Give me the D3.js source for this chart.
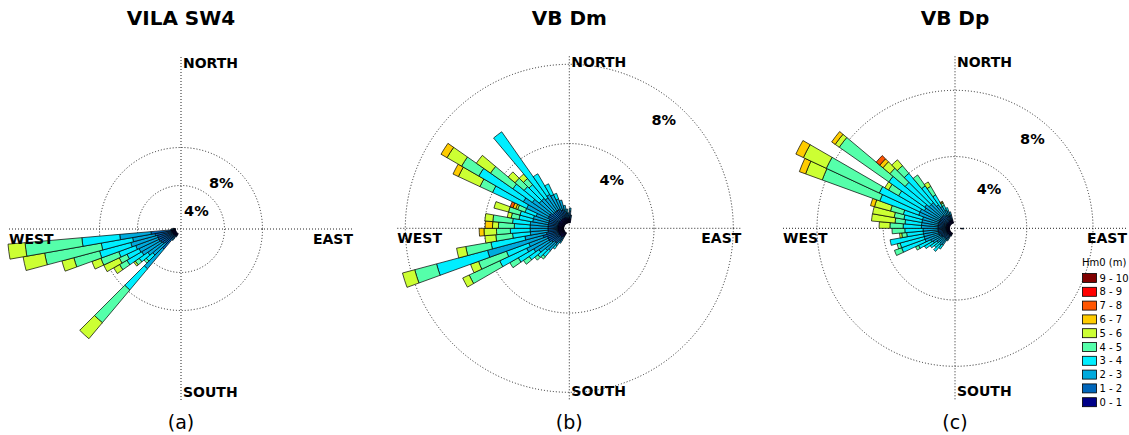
<!DOCTYPE html>
<html>
<head>
<meta charset="utf-8">
<script src="https://cdn.jsdelivr.net/npm/d3@7"></script>
<style>
  body { margin: 0; background: #fff; }
  text { font-family: "DejaVu Sans", sans-serif; }
</style>
</head>
<body>
<svg id="chart" width="1129" height="435"></svg>
<script>
// Significant wave height classes (m) and their colours
const classLabels = ['0 - 1', '1 - 2', '2 - 3', '3 - 4', '4 - 5', '5 - 6', '6 - 7', '7 - 8', '8 - 9', '9 - 10'];
const classColors = ['#000088', '#0066bb', '#00aadd', '#00eeff', '#55ffaa', '#ccff33', '#ffcc00', '#ff5500', '#ff0000', '#800000'];

// Direction bins (degrees, clockwise from north, 5-degree sectors) and
// frequency (%) per Hm0 class for each bin.
const dirsA = [212.5, 217.5, 222.5, 227.5, 232.5, 237.5, 242.5, 247.5, 252.5, 257.5, 262.5, 267.5, 272.5];
const freqA = [
  [0.2, 0.2],
  [0.2, 0.4, 0.3],
  [0.4, 1.8, 2.7, 2.9, 4.5, 2.2],
  [0.3, 1.3, 1.7, 0.9, 0.3],
  [0.4, 1.4, 1.9, 1.1, 0.5, 0.2],
  [0.4, 1.5, 2.3, 1.8, 0.9, 0.7],
  [0.4, 1.6, 2.3, 1.4, 0.9, 1.8],
  [0.4, 1.6, 2.5, 1.9, 2.0, 1.0],
  [0.4, 1.6, 2.9, 3.4, 2.8, 1.3],
  [0.4, 1.8, 2.4, 3.35, 6.05, 2.3],
  [0.5, 2.1, 3.3, 4.0, 6.0, 1.8],
  [0.2, 0.3],
  [0.15, 0.15]
];

const dirsB = [212.5, 217.5, 222.5, 227.5, 232.5, 237.5, 242.5, 247.5, 252.5, 257.5, 262.5, 267.5, 272.5, 277.5, 282.5, 287.5,
               292.5, 297.5, 302.5, 307.5, 312.5, 317.5, 322.5, 327.5, 332.5, 337.5, 342.5, 347.5, 352.5, 357.5, 2.5, 7.5];
const freqB = [
  [0.2, 0.2, 0.2],
  [0.2, 0.3, 0.3, 0.2],
  [0.3, 0.4, 0.5, 0.4, 0.15],
  [0.3, 0.4, 0.6, 0.5, 0.2],
  [0.3, 0.5, 0.8, 0.6, 0.35],
  [0.3, 0.6, 0.9, 0.9, 0.49],
  [0.3, 0.6, 1.2, 1.5, 1.7, 0.36],
  [0.3, 0.6, 1.0, 1.2, 1.5, 0.43],
  [0.3, 0.8, 2.9, 2.66, 1.14, 0.64],
  [0.3, 0.6, 1.1, 1.74, 1.29, 0.47],
  [0.3, 0.5, 0.9, 0.9, 0.85, 0.55],
  [0.3, 0.5, 0.9, 1.0, 0.7, 0.63, 0.24],
  [0.3, 0.5, 0.9, 0.8, 0.8, 0.3, 0.37],
  [0.3, 0.5, 0.9, 0.9, 1.0, 0.4],
  [0.3, 0.5, 0.8, 0.7, 0.4, 0.2],
  [0.3, 0.5, 0.8, 0.7, 0.6, 0.76],
  [0.3, 0.5, 0.7, 0.6, 0.4, 0.1, 0.15, 0.15],
  [0.3, 0.6, 1.2, 1.9, 0.7, 1.2, 0.3],
  [0.3, 0.6, 1.5, 2.6, 1.0, 0.85, 0.35],
  [0.3, 0.6, 1.1, 1.2, 1.38, 0.87],
  [0.3, 0.5, 0.9, 1.0, 0.6, 0.45],
  [0.3, 0.5, 0.9, 0.9, 0.4, 0.3],
  [0.3, 0.5, 0.8, 4.07],
  [0.3, 0.5, 0.9, 1.2],
  [0.3, 0.5, 0.8, 0.6],
  [0.3, 0.4, 0.6, 0.3],
  [0.3, 0.4, 0.5],
  [0.25, 0.35, 0.3],
  [0.2, 0.3, 0.2],
  [0.2, 0.2, 0.1],
  [0.3, 0.3, 0.15],
  [0.2, 0.2]
];

const dirsC = [92.5, 207.5, 212.5, 217.5, 222.5, 227.5, 232.5, 237.5, 242.5, 247.5, 252.5, 257.5, 262.5, 267.5, 272.5, 277.5, 282.5,
               287.5, 292.5, 297.5, 302.5, 307.5, 312.5, 317.5, 322.5, 327.5, 332.5, 337.5, 342.5];
const freqC = [
  [0.1, 0.1],
  [0.1, 0.1],
  [0.15, 0.2, 0.2],
  [0.2, 0.3, 0.4, 0.3],
  [0.2, 0.3, 0.5, 0.49],
  [0.2, 0.3, 0.4, 0.4],
  [0.2, 0.3, 0.5, 0.5],
  [0.2, 0.4, 0.6, 0.6],
  [0.2, 0.4, 0.7, 0.8, 0.2],
  [0.2, 0.5, 0.9, 1.5, 0.46],
  [0.2, 0.5, 0.9, 1.5, 0.19],
  [0.2, 0.5, 0.9, 2.05],
  [0.2, 0.5, 0.9, 1.0, 0.3, 0.13],
  [0.2, 0.5, 0.9, 1.1, 0.77],
  [0.2, 0.5, 1.0, 1.1, 0.8, 0.65],
  [0.2, 0.5, 1.0, 1.0, 0.6, 1.43],
  [0.2, 0.5, 1.0, 1.1, 0.6, 1.32],
  [0.2, 0.5, 1.0, 1.2, 0.8, 1.0, 0.25],
  [0.2, 0.5, 1.3, 2.5, 3.7, 1.07, 0.4],
  [0.2, 0.5, 1.3, 2.71, 3.53, 1.53, 0.5],
  [0.2, 0.5, 1.1, 1.8, 0.7, 0.26],
  [0.2, 0.5, 1.2, 2.65, 3.65, 0.3, 0.26],
  [0.2, 0.5, 1.0, 1.9, 1.2, 0.55, 0.25, 0.28],
  [0.2, 0.5, 1.0, 2.3, 0.6, 0.47],
  [0.2, 0.4, 0.8, 1.4, 0.8],
  [0.2, 0.4, 0.6, 0.8, 0.6, 0.3],
  [0.2, 0.3, 0.4, 0.3, 0.15, 0.07, 0.05],
  [0.2, 0.3, 0.3, 0.2],
  [0.2, 0.3, 0.2]
];

const ringTicks = [4, 8];
const ringLabels = ['4%', '8%'];
const compassLabels = ['NORTH', 'EAST', 'SOUTH', 'WEST'];

const panels = [
  { title: 'VILA SW4', tag: '(a)', dirs: dirsA, freq: freqA, cx: 181, cy: 229, r8: 81.5 },
  { title: 'VB Dm',    tag: '(b)', dirs: dirsB, freq: freqB, cx: 569.3, cy: 228.3, r8: 164 },
  { title: 'VB Dp',    tag: '(c)', dirs: dirsC, freq: freqC, cx: 955, cy: 228.3, r8: 138 }
];

const svg = d3.select('#chart');
const R0 = 5.5;        // inner hole radius
const AXIS = 172;      // half-length of the compass axes
const SECTOR = 5;      // sector width in degrees
const toRad = d => d * Math.PI / 180;
const arc = d3.arc();
const dotted = sel => sel.attr('fill', 'none').attr('stroke', '#222').attr('stroke-width', 1).attr('stroke-dasharray', '1,2');

panels.forEach(p => {
  const r = d3.scaleLinear().domain([0, 8]).range([R0, p.r8]);
  const g = svg.append('g').attr('transform', `translate(${p.cx},${p.cy})`);

  // compass axes
  g.append('line').attr('x1', -AXIS).attr('x2', AXIS).attr('y1', 0).attr('y2', 0).call(dotted);
  g.append('line').attr('x1', 0).attr('x2', 0).attr('y1', -AXIS).attr('y2', AXIS).call(dotted);

  // frequency rings
  ringTicks.forEach(t => g.append('circle').attr('r', r(t)).call(dotted));

  // stacked sectors
  p.dirs.forEach((dir, i) => {
    const stack = d3.cumsum(classColors.map((c, k) => p.freq[i][k] || 0));
    classColors.forEach((c, k) => {
      const v = p.freq[i][k] || 0;
      if (!v) return;
      g.append('path')
        .attr('d', arc({
          innerRadius: r(stack[k] - v),
          outerRadius: r(stack[k]),
          startAngle: toRad(dir - SECTOR / 2),
          endAngle: toRad(dir + SECTOR / 2)
        }))
        .attr('fill', c)
        .attr('stroke', '#000')
        .attr('stroke-width', 0.7)
        .attr('stroke-linejoin', 'round');
    });
  });

  // ring labels
  ringTicks.forEach((t, j) => {
    const d = r(t) - 20, a = toRad(41);
    g.append('text')
      .attr('x', d * Math.sin(a)).attr('y', -d * Math.cos(a))
      .attr('dy', '0.36em')
      .attr('text-anchor', 'middle')
      .attr('font-weight', 'bold').attr('font-size', 14.5)
      .text(ringLabels[j]);
  });

  // compass labels
  const lab = (txt, x, y, anchor) => g.append('text')
    .attr('x', x).attr('y', y).attr('text-anchor', anchor)
    .attr('font-weight', 'bold').attr('font-size', 14).text(txt);
  lab(compassLabels[0], 2, -161, 'start');
  lab(compassLabels[1], AXIS, 14.5, 'end');
  lab(compassLabels[2], 2, 168, 'start');
  lab(compassLabels[3], -AXIS, 14.5, 'start');

  // title and panel tag
  svg.append('text').attr('x', p.cx).attr('y', 25).attr('text-anchor', 'middle')
    .attr('font-weight', 'bold').attr('font-size', 20).text(p.title);
  svg.append('text').attr('x', p.cx).attr('y', 429).attr('text-anchor', 'middle')
    .attr('font-size', 19).text(p.tag);
});

// legend
const leg = svg.append('g').attr('transform', 'translate(1082,0)');
leg.append('text').attr('x', 0).attr('y', 266).attr('font-size', 10).text('Hm0 (m)');
const order = d3.range(classLabels.length).reverse();
order.forEach((k, j) => {
  const y = 273.5 + j * 13.8;
  leg.append('rect').attr('x', 0.5).attr('y', y).attr('width', 14).attr('height', 9)
    .attr('fill', classColors[k]).attr('stroke', '#000').attr('stroke-width', 0.8);
  leg.append('text').attr('x', 17.5).attr('y', y + 8).attr('font-size', 10).text(classLabels[k]);
});
</script>
</body>
</html>
